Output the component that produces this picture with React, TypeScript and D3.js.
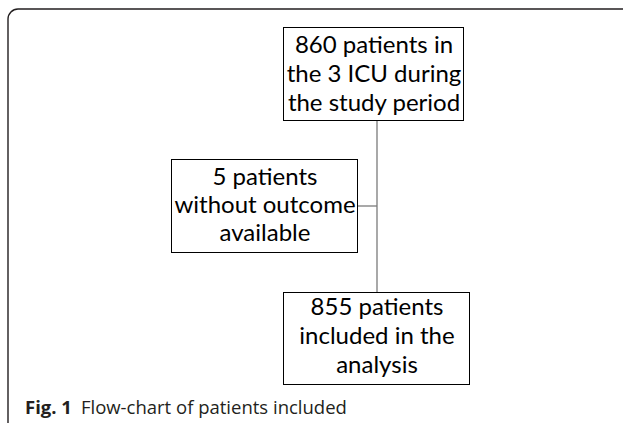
import React, { useEffect, useRef } from 'react';
import * as d3 from 'd3';

// Flow-chart content
const topLines = ['860 patients in', 'the 3 ICU during', 'the study period'];
const sideLines = ['5 patients', 'without outcome', 'available'];
const bottomLines = ['855 patients', 'included in the', 'analysis'];
const captionLabel = 'Fig. 1';
const captionText = 'Flow-chart of patients included';

const W = 625;
const H = 423;

const App: React.FC = () => {
  const svgRef = useRef<SVGSVGElement>(null);

  useEffect(() => {
    if (!svgRef.current) return;
    const svg = d3.select(svgRef.current);
    svg.selectAll('*').remove();

    // Outer frame: top + left edges with rounded corner
    const r = 10;
    const frame = d3.path();
    frame.moveTo(8, H);
    frame.lineTo(8, 9 + r);
    frame.arcTo(8, 9, 8 + r, 9, r);
    frame.lineTo(623, 9);
    svg.append('path')
      .attr('d', frame.toString())
      .attr('fill', 'none')
      .attr('stroke', '#231f20')
      .attr('stroke-width', 1.4);

    const boxes = [
      { lines: topLines, x: 283, y: 27, w: 180, h: 93, base: 53, step: 29 },
      { lines: sideLines, x: 171, y: 159, w: 186, h: 93, base: 185, step: 28 },
      { lines: bottomLines, x: 283, y: 292, w: 186, h: 92, base: 315, step: 29 },
    ];

    // Connectors
    const spineX = 377;
    svg.append('line')
      .attr('x1', spineX).attr('x2', spineX)
      .attr('y1', boxes[0].y + boxes[0].h).attr('y2', boxes[2].y)
      .attr('stroke', '#7a7a7a').attr('stroke-width', 1.3);
    svg.append('line')
      .attr('x1', boxes[1].x + boxes[1].w).attr('x2', spineX)
      .attr('y1', 206).attr('y2', 206)
      .attr('stroke', '#7a7a7a').attr('stroke-width', 1.3);

    boxes.forEach(b => {
      svg.append('rect')
        .attr('x', b.x + 0.5).attr('y', b.y + 0.5)
        .attr('width', b.w).attr('height', b.h)
        .attr('fill', '#fff')
        .attr('stroke', '#000')
        .attr('stroke-width', 1);
      b.lines.forEach((t, i) => {
        svg.append('text')
          .attr('x', b.x + b.w / 2 + 1)
          .attr('y', b.base + i * b.step)
          .attr('text-anchor', 'middle')
          .style('font-family', 'Lato, sans-serif')
          .style('font-size', '24px')
          .style('fill', '#000')
          .text(t);
      });
    });

    // Caption
    const cap = svg.append('text')
      .attr('x', 25)
      .attr('y', 414)
      .style('font-family', '"Open Sans", sans-serif')
      .style('font-size', '18.5px')
      .style('fill', '#231f20');
    cap.append('tspan').style('font-weight', 'bold').text(captionLabel);
    cap.append('tspan').attr('dx', 9).text(captionText);
  }, []);

  return (
    <div style={{ position: 'absolute', left: 0, top: 0, width: W, height: H, background: '#fff' }}>
      <svg ref={svgRef} width={W} height={H} style={{ display: 'block' }} />
    </div>
  );
};

export default App;
